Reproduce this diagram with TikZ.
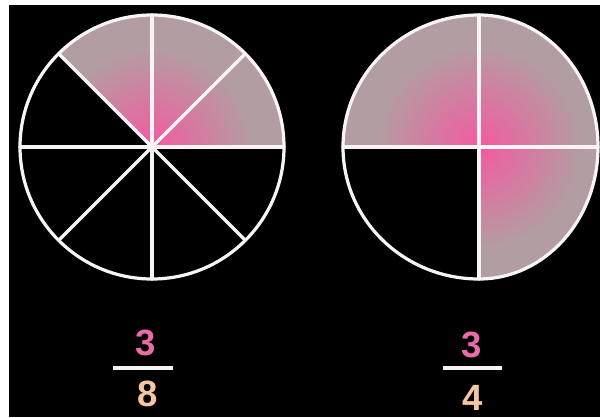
\documentclass[tikz,border=0pt]{standalone}
\usepackage{fontspec}
\setmainfont{Liberation Sans}
\usetikzlibrary{positioning}

\definecolor{pieink}{RGB}{248,244,246}
\definecolor{piepink}{RGB}{244,90,160}
\definecolor{piemauve}{RGB}{178,158,162}
\definecolor{numpink}{RGB}{232,108,168}
\definecolor{denpeach}{RGB}{246,198,160}
\pgfdeclareradialshading{piefade}{\pgfpoint{0bp}{0bp}}{color(0bp)=(piepink); color(19bp)=(piemauve); color(50bp)=(piemauve)}

\begin{document}
\begin{tikzpicture}[
  x=0.025cm,y=0.025cm,
  spoke/.style={draw=pieink, line width=2.3pt, line cap=round},
  rim/.style={draw=pieink, line width=2.3pt},
  numer/.style={font=\bfseries\fontsize{26}{26}\selectfont, text=numpink, inner sep=0pt},
  denom/.style={font=\bfseries\fontsize{26}{26}\selectfont, text=denpeach, inner sep=0pt},
  fracbar/.style={draw=pieink, line width=2.6pt}
]
  \useasboundingbox (0,0) rectangle (600,417);
  \fill[white] (0,0) rectangle (600,417);
  \fill[black] (9,0) rectangle (600,412);

  % eighths
  \coordinate (c8) at (152,270);
  \begin{scope}
    \clip (c8) -- ++(0:132) arc[start angle=0, end angle=135, radius=132] -- cycle;
    \shade[shading=piefade] (c8) circle (132);
  \end{scope}
  \foreach \a in {0,45,...,315}
    \draw[spoke] (c8) -- ++(\a:132);
  \draw[rim] (c8) circle (132);

  % quarters
  \coordinate (c4) at (479,270);
  \begin{scope}
    \clip (c4) -- ++(0,-132) arc[start angle=270, end angle=450, x radius=119, y radius=132]
      arc[start angle=90, end angle=180, x radius=136, y radius=132] -- cycle;
    \shade[shading=piefade] (c4) circle (136);
  \end{scope}
  \draw[spoke] (c4) -- ++(0,132);
  \draw[spoke] (c4) -- ++(0,-132);
  \draw[spoke] (c4) -- ++(-136,0);
  \draw[spoke] (c4) -- ++(119,0);
  \draw[rim] (c4) ++(0,132) arc[start angle=90, end angle=270, x radius=136, y radius=132]
    arc[start angle=270, end angle=450, x radius=119, y radius=132];

  % fractions
  \node[numer] (n8) at (146,74) {3};
  \node[denom] (d8) at (148,23) {8};
  \draw[fracbar] (113,49) -- (173,49);

  \node[numer] (n4) at (472,72) {3};
  \node[denom] (d4) at (473,19) {4};
  \draw[fracbar] (443,49) -- (502,49);
\end{tikzpicture}
\end{document}
